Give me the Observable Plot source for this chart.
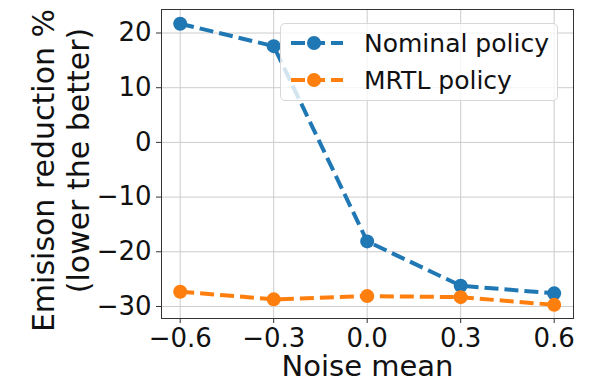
<!DOCTYPE html>
<html>
<head>
<meta charset="utf-8">
<script src="https://cdn.jsdelivr.net/npm/d3@7"></script>
<script src="https://cdn.jsdelivr.net/npm/@observablehq/plot@0.6"></script>
<style>
  html, body { margin: 0; padding: 0; background: #fff; }
  #wrap { position: relative; width: 611px; height: 381px; font-family: "DejaVu Sans", sans-serif; }
  #legend {
    position: absolute; left: 280px; top: 23px; width: 278px; height: 78px;
    box-sizing: border-box; border: 1px solid #d8d8d8; border-radius: 5px;
    background: rgba(255,255,255,0.8);
  }
  .row { position: absolute; left: 0; height: 36px; display: flex; align-items: center; }
  .row span { font-size: 25px; color: #111; margin-left: 20px; white-space: nowrap; }
</style>
</head>
<body>
<div id="wrap"></div>
<script>
const noiseMean = [-0.6, -0.3, 0.0, 0.3, 0.6];
const nominal = [21.7, 17.6, -18.1, -26.2, -27.6];
const mrtl = [-27.3, -28.7, -28.1, -28.3, -29.7];
const seriesNames = ["Nominal policy", "MRTL policy"];
const seriesColors = ["#1f77b4", "#ff7f0e"];
const xTicks = [-0.6, -0.3, 0.0, 0.3, 0.6];
const yTicks = [-30, -20, -10, 0, 10, 20];
const xLabel = ["Noise mean"];
const yLabel1 = ["Emisison reduction %"];
const yLabel2 = ["(lower the better)"];

const seriesValues = [nominal, mrtl];
const data = seriesNames.flatMap((name, s) =>
  noiseMean.map((x, i) => ({series: name, x, y: seriesValues[s][i]})));

const marks = [
  Plot.gridX(xTicks, {stroke: "#cccccc", strokeOpacity: 1, strokeWidth: 1}),
  Plot.gridY(yTicks, {stroke: "#cccccc", strokeOpacity: 1, strokeWidth: 1}),
  Plot.axisX({ticks: xTicks, tickFormat: d3.format(".1f"), tickSize: 5, tickPadding: 5, fontSize: 26, label: null, stroke: "#333"}),
  Plot.axisY({ticks: yTicks, tickFormat: d3.format("d"), tickSize: 5, tickPadding: 5, fontSize: 26, label: null, stroke: "#333"}),
];
seriesNames.forEach((name, s) => {
  const d = data.filter(r => r.series === name);
  marks.push(Plot.line(d, {x: "x", y: "y", stroke: seriesColors[s], strokeWidth: 4, strokeDasharray: "14,6", strokeLinecap: "butt"}));
  marks.push(Plot.dot(d, {x: "x", y: "y", r: 7, fill: seriesColors[s], stroke: "none"}));
});
marks.push(Plot.frame({stroke: "#333", strokeWidth: 1}));
marks.push(Plot.text(xLabel, {frameAnchor: "bottom", lineAnchor: "top", dy: 36.5, fontSize: 29, fill: "#111"}));
marks.push(Plot.text(yLabel1, {frameAnchor: "left", textAnchor: "middle", rotate: -90, dx: -117.5, dy: 6.5, fontSize: 30, fill: "#111"}));
marks.push(Plot.text(yLabel2, {frameAnchor: "left", textAnchor: "middle", rotate: -90, dx: -82.5, dy: -3.5, fontSize: 30, fill: "#111"}));

const chart = Plot.plot({
  width: 611,
  height: 381,
  marginLeft: 161,
  marginRight: 38,
  marginTop: 9,
  marginBottom: 63,
  style: {fontFamily: "DejaVu Sans", background: "#fff", color: "#111", overflow: "visible"},
  x: {domain: [-0.66, 0.662]},
  y: {domain: [-32.2, 24.3]},
  marks
});
const wrap = document.getElementById("wrap");
wrap.appendChild(chart);

const legend = d3.select(wrap).append("div").attr("id", "legend");
seriesNames.forEach((name, s) => {
  const row = legend.append("div").attr("class", "row").style("top", (s === 0 ? 1 : 38) + "px").style("left", "9px");
  const svg = row.append("svg").attr("width", 54).attr("height", 20);
  svg.append("line").attr("x1", 1).attr("x2", 53).attr("y1", 10).attr("y2", 10)
    .attr("stroke", seriesColors[s]).attr("stroke-width", 4).attr("stroke-dasharray", "14,6");
  svg.append("circle").attr("cx", 24).attr("cy", 10).attr("r", 7).attr("fill", seriesColors[s]);
  row.append("span").text(name);
});
</script>
</body>
</html>
